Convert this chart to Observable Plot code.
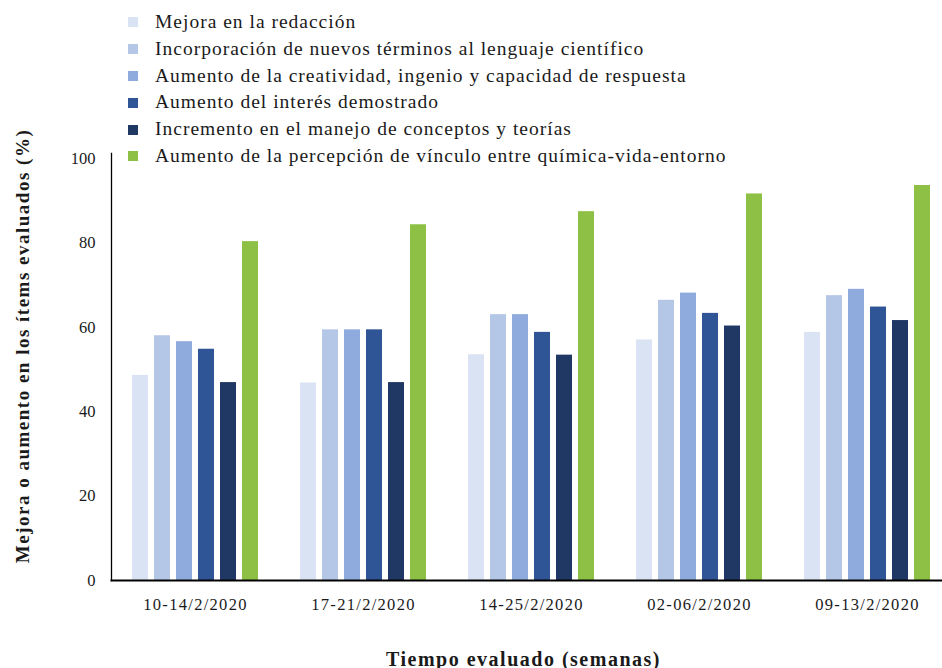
<!DOCTYPE html>
<html>
<head>
<meta charset="utf-8">
<script src="https://cdn.jsdelivr.net/npm/d3@7"></script>
<script src="https://cdn.jsdelivr.net/npm/@observablehq/plot@0.6"></script>
<style>
  html, body { margin: 0; padding: 0; background: #fff; }
  #wrap { position: relative; width: 942px; height: 668px; font-family: "Liberation Serif", serif; }
  #legend { position: absolute; left: 128px; top: 9px; color: #1a1a1a; font-size: 19.5px; letter-spacing: 1px; line-height: 26.8px; }
  #legend .item { display: flex; align-items: center; white-space: nowrap; }
  #legend .sw { width: 10px; height: 10px; margin-right: 17px; flex: none; }
  svg text { fill: #1a1a1a; }
  g[aria-label="fx-axis tick label"] text { letter-spacing: 1.3px; }
  g[aria-label="y-axis label"] { translate: 0px -21px; }
  g[aria-label="y-axis label"] text { font-weight: bold; font-size: 19px; letter-spacing: 1.5px; }
  g[aria-label="fx-axis label"] { translate: -8px 0px; }
  g[aria-label="fx-axis label"] text { font-weight: bold; font-size: 20px; letter-spacing: 1.5px; }
</style>
</head>
<body>
<div id="wrap">
  <div id="chart"></div>
  <div id="legend"></div>
</div>
<script>
const groups = ["10-14/2/2020", "17-21/2/2020", "14-25/2/2020", "02-06/2/2020", "09-13/2/2020"];
const series = [
  "Mejora en la redacción",
  "Incorporación de nuevos términos al lenguaje científico",
  "Aumento de la creatividad, ingenio y capacidad de respuesta",
  "Aumento del interés demostrado",
  "Incremento en el manejo de conceptos y teorías",
  "Aumento de la percepción de vínculo entre química-vida-entorno"
];
const colors = ["#dae3f3", "#b4c7e7", "#8faadc", "#2f5597", "#203864", "#8dc044"];

const mejora        = [48.6, 46.8, 53.5, 57.0, 58.8];
const incorporacion = [58.0, 59.4, 63.0, 66.4, 67.5];
const creatividad   = [56.6, 59.4, 63.0, 68.1, 69.0];
const interes       = [54.8, 59.4, 58.8, 63.3, 64.8];
const conceptos     = [46.9, 46.9, 53.4, 60.3, 61.6];
const vinculo       = [80.3, 84.3, 87.4, 91.6, 93.6];
const yTicks = [0, 20, 40, 60, 80, 100];
const yTitle = "Mejora o aumento en los ítems evaluados (%)";
const xTitle = "Tiempo evaluado (semanas)";

const values = [mejora, incorporacion, creatividad, interes, conceptos, vinculo];
const data = groups.flatMap((g, i) => series.map((s, j) => ({group: g, series: s, value: values[j][i]})));

const chart = Plot.plot({
  width: 942,
  height: 668,
  marginTop: 153,
  marginBottom: 88,
  marginLeft: 110,
  marginRight: 0,
  style: {fontFamily: "'Liberation Serif', serif", fontSize: "16.5px", color: "#1a1a1a", background: "transparent"},
  fx: {domain: groups, range: [110, 951], paddingInner: 0, paddingOuter: 0, label: null},
  x: {domain: series, paddingInner: 0.286, paddingOuter: 0.8985, axis: null},
  y: {domain: [0, 100], range: [580, 158]},
  color: {domain: series, range: colors},
  marks: [
    Plot.barY(data, {fx: "group", x: "series", y: "value", fill: "series"}),
    Plot.axisY({ticks: yTicks, tickSize: 0, tickPadding: 16, label: yTitle, labelAnchor: "center", labelOffset: 96, labelArrow: "none"}),
    Plot.axisFx({anchor: "bottom", tickSize: 0, tickPadding: 18, label: xTitle, labelAnchor: "center", labelOffset: 85, labelArrow: "none"}),
    Plot.frame({anchor: "bottom", facet: "super", stroke: "#000", strokeWidth: 2}),
    Plot.frame({anchor: "left", facet: "super", stroke: "#000", strokeWidth: 1.3})
  ]
});
document.getElementById("chart").appendChild(chart);

const legend = document.getElementById("legend");
series.forEach((s, j) => {
  const item = document.createElement("div");
  item.className = "item";
  const sw = document.createElement("span");
  sw.className = "sw";
  sw.style.background = colors[j];
  const t = document.createElement("span");
  t.textContent = s;
  item.appendChild(sw);
  item.appendChild(t);
  legend.appendChild(item);
});
</script>
</body>
</html>
